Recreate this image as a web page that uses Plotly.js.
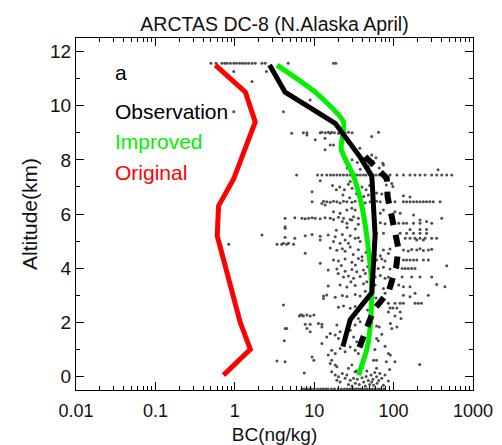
<!DOCTYPE html>
<html>
<head>
<meta charset="utf-8">
<script src="https://cdn.plot.ly/plotly-3.0.1.min.js"></script>
<style>html,body{margin:0;padding:0;background:#fff;}#chart{width:502px;height:445px;}</style>
</head>
<body>
<div id="chart"></div>
<script>
// Model / observation profiles (BC in ng/kg, altitude in km)
const originalBC  = [0.57, 1.36, 1.81, 0.97, 0.625, 0.60, 1.17, 1.57, 0.72];
const originalAlt = [11.5, 10.5, 9.4, 7.3, 6.3, 5.2, 2.0, 1.0, 0.05];

const improvedBC  = [3.4, 10.3, 23.4, 21.9, 31.3, 39.8, 48.2, 53.2, 50.6, 46, 36];
const improvedAlt = [11.5, 10.5, 9.4, 8.4, 7.4, 6.3, 4.7, 3.2, 1.8, 1.0, 0.05];

const obsBC  = [2.74, 4.3, 18.4, 37.9, 53.2, 58.5, 53.2, 28.4, 23];
const obsAlt = [11.5, 10.5, 9.35, 8.1, 7.4, 5.2, 3.1, 2.1, 1.1];

const obsDashBC  = [43.9, 82, 84, 99, 115, 108, 86.5, 56, 46, 36];
const obsDashAlt = [8.12, 7.32, 6.64, 5.59, 4.73, 4.05, 3.13, 2.45, 1.83, 0.97];

// Individual observations [BC, altitude]
const samples = [
[0.50,11.57],[0.58,11.57],[0.69,11.57],[0.75,11.57],[0.80,11.57],[0.88,11.57],[0.97,11.57],[1.05,11.57],[1.15,11.57],[1.25,11.57],[1.36,11.57],[1.49,11.57],[1.65,11.57],[1.81,11.57],[2.2,11.57],[2.42,11.57],[4.7,11.57],[17.5,11.57],[18.7,11.57],
[0.97,11.26],[1.65,10.89],[2.5,11.26],[0.97,9.78],[4.1,9.78],[8.9,10.21],
[5.2,8.98],[7.3,9.0],[8.1,8.92],[8.1,9.0],[11.9,9.0],[12.5,9.02],[13.8,9.0],[15.1,9.02],[15.9,8.98],[16.6,9.02],[18,9.0],[20.2,8.98],[22,9.04],[24.5,9.0],[27,9.02],[30,9.0],[53,8.86],[64.6,9.02],[10.3,8.74],[13.7,8.8],[15.9,8.55],[17.5,8.55],[13.7,8.37],[37.6,8.43],[53,8.18],[60,8.08],[73,7.87],[74.5,7.81],[363,7.63],
[30,8.0],[35,7.9],[42,8.05],[48,7.75],[55,7.95],[26,7.7],[38,7.65],[66,7.7],
[6.0,7.44],[11,7.44],[12.5,7.44],[14.4,7.44],[16,7.44],[17.5,7.44],[19.3,7.44],[21.2,7.44],[23.4,7.44],[25.8,7.44],[28.4,7.44],[30,7.44],[32.8,7.44],[35,7.44],[38,7.44],[41.7,7.44],[45,7.44],[50,7.44],[55,7.44],[60,7.44],[66,7.44],[73,7.44],[80,7.44],[90,7.44],[110,7.44],[133,7.44],[161,7.44],[186,7.44],[215,7.44],[249,7.44],[302,7.44],[349,7.44],[404,7.44],[467,7.44],[540,7.44],
[11.9,7.23],[28.4,7.2],[81,7.07],[98,7.02],[95,7.13],[9.4,6.82],[61,6.78],[71,6.74],[133,6.67],[161,6.63],
[21,7.0],[24,6.9],[27,7.1],[30,6.95],[33,7.15],[36,6.85],[40,7.0],[45,6.9],[50,7.05],[55,6.95],[23,6.7],[28,6.6],[34,6.75],[42,6.65],[48,6.7],[19,6.9],[17,7.05],
[9.4,6.45],[12.5,6.39],[13.1,6.47],[13.7,6.33],[14.4,6.45],[15.9,6.43],[17.5,6.47],[19.3,6.45],[21.2,6.41],[23.4,6.47],[25.8,6.45],[29.8,6.43],[32.8,6.47],[37.9,6.45],[43.9,6.42],[50.6,6.45],[61,6.47],[68,6.45],[104,6.45],[133,6.45],[146,6.45],[161,6.45],[178,6.45],[196,6.45],[215,6.45],[237,6.45],[260,6.45],[286,6.45],[316,6.45],[385,6.45],
[17.5,6.08],[21.2,6.03],[25.8,6.15],[29.8,6.21],[32.8,6.15],[41.7,6.15],[104,6.08],[121,6.03],[178,5.96],[74.5,6.15],[68,6.03],
[4.3,5.84],[5.7,5.86],[7.0,5.84],[7.7,5.82],[8.5,5.84],[9.4,5.86],[10.3,5.84],[11.9,5.82],[13.7,5.86],[15.9,5.84],[17.5,5.8],[20.2,5.88],[23.4,5.84],[28.4,5.8],[31.3,5.9],[36,5.84],[215,5.78],[260,5.72],[404,5.84],
[22.6,5.72],[25.8,5.66],[29.8,5.78],[36,5.62],[58.5,5.66],[68,5.68],[78,5.64],[116,5.66],[133,5.66],[146,5.66],[178,5.66],[215,5.66],[302,5.66],
[4.3,5.47],[4.3,5.53],[215,5.43],[260,5.43],[161,5.43],[26,5.5],[33,5.45],[44,5.55],[19,5.4],
[2.2,5.22],[7.7,5.2],[9.4,5.24],[11.9,5.18],[15.0,5.22],[18.4,5.16],[22.6,5.24],[28.4,5.2],[36,5.12],[46,5.26],[4.3,5.14],[61,5.29],[74.5,5.29],[121,5.29],[146,5.29],[178,5.29],[215,5.29],[260,5.29],
[5.7,5.1],[11.9,5.04],[17.5,4.98],[21.2,4.92],[24.5,5.04],[27,4.92],[32.8,5.1],[37.9,4.98],[140,5.1],[161,5.1],[186,5.1],[215,5.1],[249,5.1],[302,5.1],[349,5.1],[237,5.04],[196,5.04],
[0.84,4.88],[3.4,4.88],[3.9,4.88],[4.5,4.88],[5.5,4.88],[4.1,4.92],[4.75,4.92],
[15.9,4.74],[19.3,4.66],[22.6,4.72],[24.5,4.62],[28.4,4.78],[36,4.68],[74.5,4.67],[90,4.71],[133,4.67],[153,4.63],[169,4.69],[196,4.67],[215,4.72],[237,4.65],[274,4.67],[302,4.7],
[7.7,4.55],[58.5,4.5],[68,4.46],[86,4.54],[31,4.5],[40,4.42],[45,4.58],
[17.5,4.3],[20.2,4.26],[24.5,4.34],[29.8,4.22],[36,4.36],[40,4.28],[61,4.3],[71,4.34],[78,4.26],[133,4.3],[146,4.3],[161,4.3],[178,4.3],[196,4.3],[237,4.3],[274,4.3],[11.9,4.18],[467,4.09],
[15,3.93],[19.3,3.97],[24.5,3.89],[29.8,3.95],[34.4,3.87],[41.7,3.93],[64,3.99],[74.5,4.03],[90,3.97],[128,3.99],[140,3.99],[153,3.99],[169,3.99],[186,3.99],[22,4.1],[33,4.12],[47,4.05],
[23.4,3.67],[27,3.71],[31.3,3.63],[37.9,3.69],[58.5,3.67],[68,3.73],[78,3.63],[86,3.67],[128,3.67],[169,3.67],[215,3.67],[302,3.67],[44,3.8],[52,3.55],[20,3.8],
[15,3.34],[21.2,3.38],[25.8,3.3],[32.8,3.36],[41.7,3.42],[58.5,3.38],[116,3.38],[133,3.31],[161,3.31],[349,3.4],[443,3.31],[74.5,3.25],[46,3.5],[29,3.5],
[78,3.07],[133,3.0],[161,2.94],[186,3.07],[274,3.0],[13.1,2.97],[14.4,3.01],[18.4,2.93],[22.6,2.99],[25.8,2.95],[32.8,3.03],[37.9,2.97],[13.1,2.88],[44,3.15],[50,2.85],[60,2.9],
[4.1,2.64],[20.2,2.56],[23.4,2.6],[28.4,2.52],[32.8,2.58],[86,2.7],[104,2.7],[121,2.7],[133,2.7],[186,2.7],[204,2.7],[224,2.7],[90,2.53],[98,2.53],[110,2.53],[40,2.7],[47,2.45],
[86,2.38],[121,2.38],[6.7,2.27],[7.0,2.27],[8.1,2.27],[9.9,2.27],[6.5,2.23],[7.3,2.23],[8.9,2.23],[104,2.23],[124,2.14],[36,2.14],
[7.7,1.93],[8.9,1.93],[12.5,1.93],[11.3,1.96],[12.5,1.83],[19.3,1.9],[32.8,1.9],[37.9,2.02],[91,1.96],[110,1.83],[61,1.86],[66,1.83],[95,1.77],[4.3,1.77],[4.5,1.77],[8.1,1.77],
[8.9,1.65],[15.9,1.59],[18.4,1.53],[20.2,1.4],[21.2,1.65],[14.4,1.46],[28.4,1.71],[31.3,1.46],[71,1.56],[61,1.4],
[4.2,1.32],[12.5,1.22],[34.4,1.28],[37.9,1.16],[28.4,1.09],[21.2,1.03],[64,1.32],[78,1.12],[58,1.0],[16.6,0.97],[32.8,0.97],[24.5,0.91],
[18.4,0.85],[36,0.85],[9.4,0.72],[15,0.79],[86,0.85],[91,0.79],[9.9,0.6],[16.6,0.6],[56,0.6],[61,0.6],[104,0.54],[81,0.54],[3.4,0.57],[4.3,0.54],[15.9,0.48],[213,0.44],
[18.4,0.42],[29.8,0.42],[19.3,0.36],[27,0.3],[61,0.3],[89,0.26],[7.5,0.13],[16.6,0.17],[32.8,0.17],[22.6,0.11],[67,0.11],[18.4,0.05],[25.8,0.05],[78,0.05],[20.2,-0.01],[61,-0.01],
[24.5,-0.07],[31.3,-0.07],[71,-0.07],[28.4,-0.14],[19.3,-0.14],[21.2,-0.2],[53,-0.2],[86,-0.17],[74.5,-0.32],[56,-0.32],
[35,-0.1],[40,-0.05],[45,0.0],[38,0.1],[42,-0.2],[48,-0.15],[33,-0.25],[37,-0.3],[44,-0.35],[50,-0.3],[27,-0.3],[30,-0.35],[55,-0.1],[62,-0.25],[46,0.2],[52,0.05],[40,0.3],[34,0.2],[58,0.15],[65,-0.15],
[7.0,-0.46],[7.5,-0.46],[8.0,-0.46],[8.6,-0.46],[9.2,-0.46],[10,-0.46],[11,-0.46],[12,-0.46],[13,-0.46],[14,-0.46],[15,-0.46],[16.5,-0.46],[18,-0.46],[20,-0.46],[22,-0.46],[24,-0.46],[26,-0.46],[28,-0.46],[30,-0.46],[32,-0.46],[34,-0.46],[36,-0.46],[38,-0.46],[40,-0.46],[43,-0.46],[46,-0.46],[50,-0.46],[54,-0.46],[58,-0.46],[63,-0.46],[68,-0.46],[75,-0.46]
];

const xTickVals = [0.01, 0.1, 1, 10, 100, 1000];
const xTickText = ["0.01", "0.1", "1", "10", "100", "1000"];
const xMinorTicks = [0.02,0.03,0.04,0.05,0.06,0.07,0.08,0.09, 0.2,0.3,0.4,0.5,0.6,0.7,0.8,0.9, 2,3,4,5,6,7,8,9, 20,30,40,50,60,70,80,90, 200,300,400,500,600,700,800,900];
const yTickVals = [0, 2, 4, 6, 8, 10, 12];
const yMinorTicks = [1, 3, 5, 7, 9, 11];

const FONT = "Liberation Sans, Arial, sans-serif";

const traces = [
  {x: samples.map(p => p[0]), y: samples.map(p => p[1]), type: "scatter", mode: "markers",
   marker: {color: "#4d4d4d", size: 3, line: {width: 0}}, hoverinfo: "skip"},
  {x: originalBC, y: originalAlt, type: "scatter", mode: "lines", line: {color: "#ff0000", width: 5}},
  {x: improvedBC, y: improvedAlt, type: "scatter", mode: "lines", line: {color: "#00f000", width: 5, shape: "spline", smoothing: 0.6}},
  {x: obsDashBC, y: obsDashAlt, type: "scatter", mode: "lines", line: {color: "#000000", width: 6, dash: "12px,10px"}},
  {x: obsBC, y: obsAlt, type: "scatter", mode: "lines", line: {color: "#000000", width: 5}}
];

const axisCommon = {
  showgrid: false, zeroline: false, showline: true, linecolor: "#000", linewidth: 1,
  mirror: "ticks", ticks: "inside", tickcolor: "#000", tickwidth: 1, ticklen: 8
};

const layout = {
  width: 502, height: 445,
  margin: {l: 76, r: 29, t: 38, b: 55},
  paper_bgcolor: "#fff", plot_bgcolor: "#fff",
  showlegend: false,
  title: {text: "ARCTAS DC-8 (N.Alaska April)", font: {family: FONT, size: 19.5, color: "#111"},
          x: 0.5, xref: "paper", y: 0.945, yref: "container", yanchor: "middle"},
  xaxis: Object.assign({}, axisCommon, {
    type: "log", range: [-2, 3], tickmode: "array", tickvals: xTickVals, ticktext: xTickText,
    tickfont: {family: FONT, size: 18, color: "#111"}, ticklabelstandoff: 4,
    title: {text: "BC(ng/kg)", font: {family: FONT, size: 19, color: "#111"}, standoff: 9}
  }),
  yaxis: Object.assign({}, axisCommon, {
    range: [-0.5, 12.5], tickmode: "array", tickvals: yTickVals,
    tickfont: {family: FONT, size: 19, color: "#111"},
    title: {text: "Altitude(km)", font: {family: FONT, size: 21, color: "#111"}, standoff: 6}
  }),
  // overlay axes carrying the minor tick marks only
  xaxis2: {overlaying: "x", type: "log", range: [-2, 3], tickmode: "array", tickvals: xMinorTicks,
    ticks: "inside", ticklen: 4, tickcolor: "#000", tickwidth: 1, showticklabels: false,
    showgrid: false, zeroline: false, showline: false, mirror: "ticks", anchor: "y"},
  yaxis2: {overlaying: "y", range: [-0.5, 12.5], tickmode: "array", tickvals: yMinorTicks,
    ticks: "inside", ticklen: 4, tickcolor: "#000", tickwidth: 1, showticklabels: false,
    showgrid: false, zeroline: false, showline: false, mirror: "ticks", anchor: "x"},
  annotations: [
    {text: "a", x: 0.093, y: 0.903, xref: "paper", yref: "paper", xanchor: "left", yanchor: "middle", showarrow: false, font: {family: FONT, size: 21, color: "#000"}},
    {text: "Observation", x: 0.093, y: 0.79, xref: "paper", yref: "paper", xanchor: "left", yanchor: "middle", showarrow: false, font: {family: FONT, size: 21, color: "#000"}},
    {text: "Improved", x: 0.093, y: 0.705, xref: "paper", yref: "paper", xanchor: "left", yanchor: "middle", showarrow: false, font: {family: FONT, size: 21, color: "#00f000"}},
    {text: "Original", x: 0.093, y: 0.618, xref: "paper", yref: "paper", xanchor: "left", yanchor: "middle", showarrow: false, font: {family: FONT, size: 21, color: "#ff0000"}}
  ]
};

// dummy trace to activate the overlay axes
traces.push({x: [1], y: [1], xaxis: "x2", yaxis: "y2", type: "scatter", mode: "markers",
  marker: {opacity: 0}, hoverinfo: "skip"});

Plotly.newPlot("chart", traces, layout, {displayModeBar: false, staticPlot: true});
</script>
</body>
</html>
